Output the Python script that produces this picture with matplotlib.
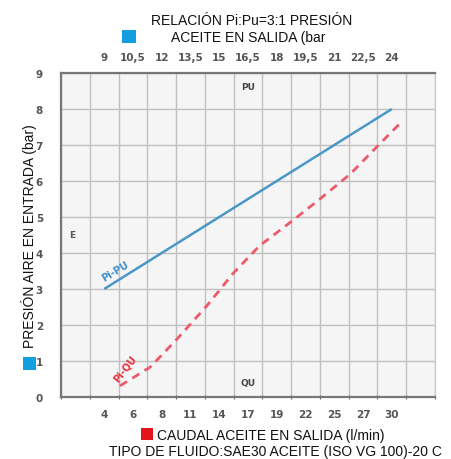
import numpy as np
import matplotlib
matplotlib.use("Agg")
import matplotlib.pyplot as plt
from matplotlib.patches import Rectangle

# ---- data ----
flow_labels = [4, 6, 8, 11, 14, 17, 19, 22, 25, 27, 30]           # l/min (bottom axis)
pu_ticks = [9, 10.5, 12, 13.5, 15, 16.5, 18, 19.5, 21, 22.5, 24]  # bar (top axis)
pi_ticks = list(range(0, 10))                                     # bar (left axis)

# Pi-PU line (outlet pressure vs inlet air pressure, ratio 3:1)
pu_line_pu = [9, 24]
pu_line_pi = [3, 8]

# Pi-QU line (oil flow vs inlet air pressure)
qu_flow = [5.1, 7.2, 9.6, 12.7, 15.4, 17.8, 20.6, 23.5, 26.1, 28.4, 31.0]
qu_pi = [0.31, 0.83, 1.61, 2.53, 3.42, 4.2, 4.89, 5.5, 6.19, 6.94, 7.64]

# ---- bottom-axis (non-uniform) scale: labels sit centred between grid columns ----
n_cols = 13
flow_ext = [1.0] + flow_labels + [34.5]
col_ext = [0.0] + [i + 1.5 for i in range(len(flow_labels))] + [float(n_cols)]

def fwd(x):
    return np.interp(x, flow_ext, col_ext)

def inv(c):
    return np.interp(c, col_ext, flow_ext)

W, H = 452, 460
fig = plt.figure(figsize=(W / 100, H / 100), dpi=100)
fig.patch.set_facecolor("white")
ax = fig.add_axes([61 / W, 1 - 398 / H, (435 - 61) / W, (398 - 74) / H])
ax.set_xscale("function", functions=(fwd, inv))
ax.set_xlim(flow_ext[0], flow_ext[-1])
ax.set_ylim(0, 9)
ax.set_facecolor("#f5f5f5")

tick_color = "#555555"
grid_color = "#c0c0c0"

# grid columns
grid_flows = inv(np.arange(0, n_cols + 1))
ax.set_xticks(grid_flows)
ax.set_xticklabels([])
ax.set_xticks(flow_labels, minor=True)
ax.set_xticklabels([str(v) for v in flow_labels], minor=True)
ax.tick_params(axis="x", which="major", length=3, color="#666666", direction="inout")
ax.tick_params(axis="x", which="minor", length=0, pad=9, labelsize=7.5,
               labelcolor=tick_color)
for lab in ax.get_xticklabels(minor=True):
    lab.set_fontweight("bold")

ax.set_yticks(pi_ticks)
ax.set_yticklabels([str(v) for v in pi_ticks])
ax.tick_params(axis="y", length=0, pad=13, labelsize=7.5, labelcolor=tick_color)
for lab in ax.get_yticklabels():
    lab.set_fontweight("bold")

ax.grid(True, which="major", color=grid_color, linewidth=1.0)
ax.set_axisbelow(True)

for side in ["left", "bottom", "top"]:
    ax.spines[side].set_color("#777777")
    ax.spines[side].set_linewidth(1.6)
ax.spines["right"].set_color("#cccccc")
ax.spines["right"].set_linewidth(1.0)

# top axis (outlet pressure)
ax2 = ax.twiny()
pu_lo = pu_ticks[0] - 1.5 * 1.5
pu_hi = pu_ticks[0] + (n_cols - 1.5) * 1.5
ax2.set_xlim(pu_lo, pu_hi)
ax2.set_xticks(pu_ticks)
ax2.set_xticklabels([str(v).replace(".", ",").replace(",0", "") for v in pu_ticks])
ax2.tick_params(axis="x", length=0, pad=8, labelsize=7.5, labelcolor=tick_color)
for lab in ax2.get_xticklabels():
    lab.set_fontweight("bold")
for s in ax2.spines.values():
    s.set_visible(False)

# lines
ax2.plot(pu_line_pu, pu_line_pi, color="#4a97c8", linewidth=1.8, solid_capstyle="butt")
ax.plot(qu_flow, qu_pi, color="#ee5a6a", linewidth=2.0, linestyle=(0, (3, 2.2)))

# in-plot annotations (pixel positions)
def ftext(x, y, s, **kw):
    fig.text(x / W, 1 - y / H, s, **kw)

ftext(115, 272, "Pi-PU", color="#3d8fd0", fontsize=7, fontweight="bold",
      rotation=31, ha="center", va="center")
ftext(125, 369, "Pi-QU", color="#e8303f", fontsize=7, fontweight="bold",
      rotation=52, ha="center", va="center")
ftext(248, 88, "PU", color="#444444", fontsize=6.5, fontweight="bold",
      ha="center", va="center")
ftext(248, 384, "QU", color="#444444", fontsize=6.5, fontweight="bold",
      ha="center", va="center")
ftext(72, 235, "E", color="#555555", fontsize=6.5, fontweight="bold",
      ha="center", va="center")

# titles
font = "Liberation Sans"
fs = 10
ftext(252, 21, "RELACIÓN Pi:Pu=3:1 PRESIÓN", fontsize=fs, family=font,
      ha="center", va="center", color="#111111")
ftext(248, 38, "ACEITE EN SALIDA (bar", fontsize=fs, family=font,
      ha="center", va="center", color="#111111")
ftext(271, 436, "CAUDAL ACEITE EN SALIDA (l/min)", fontsize=fs, family=font,
      ha="center", va="center", color="#111111")
ftext(275, 452, "TIPO DE FLUIDO:SAE30 ACEITE (ISO VG 100)-20 C", fontsize=fs,
      family=font, ha="center", va="center", color="#111111")
ftext(29, 236, "PRESIÓN AIRE EN ENTRADA (bar)", fontsize=fs, family=font,
      rotation=90, ha="center", va="center", color="#111111")

# coloured squares
def square(x0, y0, x1, y1, color):
    fig.add_artist(Rectangle((x0 / W, 1 - y1 / H), (x1 - x0) / W, (y1 - y0) / H,
                             transform=fig.transFigure, color=color, lw=0))

square(122, 31, 136, 44, "#139ee0")
square(23, 358, 36, 371, "#139ee0")
square(141, 429, 153, 441, "#e3141c")

fig.savefig("out.png", dpi=100, facecolor="white")
